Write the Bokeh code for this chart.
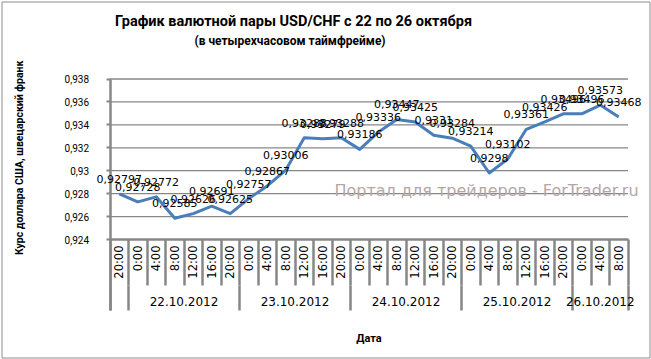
import math
from bokeh.plotting import figure
from bokeh.models import (Range1d, LinearAxis, FixedTicker, CustomJSTickFormatter,
                          ColumnDataSource, LabelSet, Label)
from bokeh.core.properties import value
from bokeh.embed import file_html
from bokeh.resources import INLINE

# ---- data ----
times = ["20:00",
         "0:00", "4:00", "8:00", "12:00", "16:00", "20:00",
         "0:00", "4:00", "8:00", "12:00", "16:00", "20:00",
         "0:00", "4:00", "8:00", "12:00", "16:00", "20:00",
         "0:00", "4:00", "8:00", "12:00", "16:00", "20:00",
         "0:00", "4:00", "8:00"]
dates = ["", "22.10.2012", "23.10.2012", "24.10.2012", "25.10.2012", "26.10.2012"]
date_counts = [1, 6, 6, 6, 6, 3]
rates = [0.92797, 0.92728, 0.92772, 0.92585, 0.92626, 0.92691, 0.92625,
         0.92757, 0.92867, 0.93006, 0.93288, 0.93279, 0.93288, 0.93186,
         0.93336, 0.93447, 0.93425, 0.93310, 0.93284, 0.93214, 0.92980,
         0.93102, 0.93361, 0.93426, 0.93496, 0.93496, 0.93573, 0.93468]
y_ticks = [0.924, 0.926, 0.928, 0.930, 0.932, 0.934, 0.936, 0.938]

title_text = "График валютной пары USD/CHF с 22 по 26 октября"
subtitle_text = "(в четырехчасовом  таймфрейме)"
y_title = "Курс доллара США, швецарский  франк"
x_title = "Дата"
watermark = "Портал для трейдеров - ForTrader.ru"

GREY = "#878787"
LINE = "#4A7EBB"

n = len(rates)
idx = list(range(n))
labels = [f"{v:.5f}".rstrip("0").replace(".", ",") for v in rates]

centers, bounds = [], [-0.5]
start = 0
for c in date_counts:
    centers.append(start + (c - 1) / 2)
    start += c
    bounds.append(start - 0.5)

# ---- layout geometry (page pixels) ----
W, H = 651, 359
X_LEFT = 109.5          # page x of the first category boundary
CAT = 18.5              # pixels per category
Y_BASE = 239.0          # page y of 0.924
Y_SCALE = 160.5 / 0.014 # pixels per unit of rate


def rx(px):
    return -0.5 + (px - X_LEFT) / CAT


def ry(py):
    return y_ticks[0] + (Y_BASE - py) / Y_SCALE


p = figure(width=W, height=H, output_backend="svg", toolbar_location=None,
           x_axis_location=None, y_axis_location=None,
           x_range=Range1d(rx(0), rx(W)),
           y_range=Range1d(ry(H), ry(0)),
           min_border=0)
p.outline_line_color = None
p.background_fill_color = "white"
p.border_fill_color = "white"
p.xgrid.visible = False
p.ygrid.visible = False

# chart border
p.quad(left=[rx(1.5)], right=[rx(649.5)], top=[ry(1.5)], bottom=[ry(357.5)],
       fill_color=None, line_color="#8c8c8c", line_width=1)

# horizontal gridlines across the categories
gy = y_ticks[1:]
p.segment(x0=[-0.5] * len(gy), x1=[n - 0.5] * len(gy), y0=gy, y1=gy,
          line_color=GREY, line_width=1.3)

# y axis
ya = LinearAxis(fixed_location=-0.5, bounds=(ry(310), y_ticks[-1]),
                ticker=FixedTicker(ticks=y_ticks),
                formatter=CustomJSTickFormatter(
                    code="return tick.toFixed(3).replace('.', ',').replace(/0+$/, '');"))
ya.major_tick_out = 4
ya.major_tick_in = 0
ya.major_tick_line_color = GREY
ya.major_tick_line_width = 2
ya.minor_tick_line_color = None
ya.axis_line_color = GREY
ya.axis_line_width = 2.5
ya.major_label_standoff = 17
ya.major_label_text_font = "Roboto"
ya.major_label_text_font_size = "10px"
ya.major_label_text_color = "black"
p.add_layout(ya, "left")

# x axis: time labels, separators between every category
xa1 = LinearAxis(fixed_location=y_ticks[0], bounds=(-0.5, n - 0.5),
                 ticker=FixedTicker(ticks=idx, minor_ticks=[i - 0.5 for i in range(n + 1)]),
                 formatter=CustomJSTickFormatter(
                     args=dict(labels=times),
                     code="const i = Math.round(tick); return (i >= 0 && i < labels.length) ? labels[i] : '';"))
xa1.major_label_orientation = math.pi / 2
xa1.major_tick_line_color = None
xa1.major_tick_out = 0
xa1.major_tick_in = 0
xa1.minor_tick_out = 46
xa1.minor_tick_in = 0
xa1.minor_tick_line_color = GREY
xa1.minor_tick_line_width = 2.5
xa1.axis_line_color = GREY
xa1.axis_line_width = 2.5
xa1.major_label_standoff = -40
xa1.major_label_text_font = "DejaVu Sans"
xa1.major_label_text_font_size = "11.5px"
xa1.major_label_text_color = "black"
p.add_layout(xa1, "below")

# x axis: date groups
xa2 = LinearAxis(fixed_location=ry(285), bounds=(-0.5, n - 0.5),
                 ticker=FixedTicker(ticks=centers, minor_ticks=bounds),
                 formatter=CustomJSTickFormatter(
                     args=dict(centers=centers, labels=dates),
                     code="const i = centers.findIndex(c => Math.abs(c - tick) < 1e-6); return i >= 0 ? labels[i] : '';"))
xa2.axis_line_color = None
xa2.major_tick_line_color = None
xa2.major_tick_out = 0
xa2.major_tick_in = 0
xa2.minor_tick_out = 25
xa2.minor_tick_in = 0
xa2.minor_tick_line_color = GREY
xa2.minor_tick_line_width = 2.5
xa2.major_label_standoff = -14
xa2.major_label_text_font = "DejaVu Sans"
xa2.major_label_text_font_size = "12px"
xa2.major_label_text_color = "black"
p.add_layout(xa2, "below")

# series and value labels
src = ColumnDataSource(dict(x=idx, y=rates, label=labels))
p.line("x", "y", source=src, line_color=LINE, line_width=3, line_join="round")
p.add_layout(LabelSet(x="x", y="y", text="label", source=src, text_align="center",
                      text_baseline="middle", y_offset=15,
                      text_font=value("DejaVu Sans"), text_font_size="11px",
                      text_color="black"))

# texts
p.add_layout(Label(x=rx(334), y=ry(190), text=watermark, text_align="left",
                   text_baseline="middle", text_font="DejaVu Sans",
                   text_font_size="16px", text_color="#b5a6a6"))
p.add_layout(Label(x=rx(293), y=ry(21), text=title_text, text_align="center",
                   text_baseline="middle", text_font="Roboto", text_font_style="bold",
                   text_font_size="14.5px", text_color="black"))
p.add_layout(Label(x=rx(291), y=ry(40), text=subtitle_text, text_align="center",
                   text_baseline="middle", text_font="Roboto", text_font_style="bold",
                   text_font_size="12px", text_color="black"))
p.add_layout(Label(x=rx(19), y=ry(156), text=y_title, angle=math.pi / 2,
                   text_align="center", text_baseline="middle", text_font="Roboto",
                   text_font_style="bold", text_font_size="10.5px", text_color="black"))
p.add_layout(Label(x=(n - 1) / 2, y=ry(338), text=x_title, text_align="center",
                   text_baseline="middle", text_font="Roboto", text_font_style="bold",
                   text_font_size="11px", text_color="black"))

open("out.html", "w").write(file_html(p, INLINE))
